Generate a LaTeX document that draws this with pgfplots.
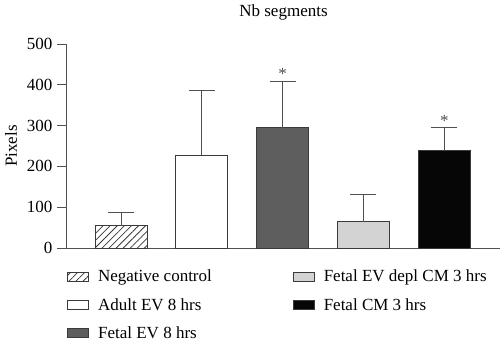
\documentclass[border=0pt]{standalone}
\usepackage{fontspec}
\setmainfont{Liberation Serif}
\usepackage{pgfplots}
\pgfplotsset{compat=1.18}
\usetikzlibrary{patterns.meta}
\definecolor{edge}{HTML}{3A3A3A}
\definecolor{axisgray}{HTML}{505050}
\definecolor{fetalev}{HTML}{5E5E5E}
\definecolor{depl}{HTML}{D3D3D3}
\definecolor{cm}{HTML}{060606}
\newcommand{\fs}{\fontsize{17}{20}\selectfont}
\begin{document}
\begin{tikzpicture}[font=\fs]
\begin{axis}[
  scale only axis, width=433pt, height=204pt,
  xmin=-0.67, xmax=4.69, ymin=0, ymax=500,
  axis x line*=bottom, axis y line*=left,
  axis line style={-, draw=axisgray, line width=1pt},
  xtick=\empty,
  ytick={0,100,200,300,400,500},
  tick align=outside, major tick length=10pt,
  tick style={draw=axisgray, line width=1pt},
  tick label style={font=\fs},
  /pgf/number format/assume math mode=true,
  yticklabel style={xshift=-1pt},
  title={Nb segments},
  title style={font=\fs, at={(0.5,1)}, anchor=south, yshift=14pt},
  ylabel={Pixels},
  ylabel style={font=\fs, xshift=0pt, yshift=3pt},
  every axis plot/.append style={draw=edge, line width=0.9pt},
  error bars/error bar style={draw=axisgray, line width=1pt},
  error bars/error mark options={rotate=90, mark size=13pt, line width=1pt, draw=axisgray},
  legend columns=2,
  legend cell align=left,
  legend image code/.code={\draw[#1] (0pt,-4.5pt) rectangle (21pt,4.5pt); \path (28pt,0pt);},
  legend style={at={(0,-0.098)}, anchor=north west, draw=none, fill=none,
    font=\fs, inner sep=0pt, row sep=11pt,
    /tikz/every even column/.append style={column sep=79pt}},
]
\addplot[ybar, bar width=52pt, fill=white,
  postaction={pattern={Lines[angle=45,distance=5pt,line width=0.8pt]}, pattern color=edge},
  error bars/.cd, y dir=plus, y explicit]
  coordinates {(0,55) +- (0,33)};
\addlegendentry{Negative control}
\addplot[ybar, bar width=52pt, fill=depl,
  error bars/.cd, y dir=plus, y explicit]
  coordinates {(3,64) +- (0,68)};
\addlegendentry{Fetal EV depl CM 3 hrs}
\addplot[ybar, bar width=52pt, fill=white,
  error bars/.cd, y dir=plus, y explicit]
  coordinates {(1,228) +- (0,157)};
\addlegendentry{Adult EV 8 hrs}
\addplot[ybar, bar width=52pt, fill=cm,
  error bars/.cd, y dir=plus, y explicit]
  coordinates {(4,238) +- (0,57)};
\addlegendentry{Fetal CM 3 hrs}
\addplot[ybar, bar width=52pt, fill=fetalev,
  error bars/.cd, y dir=plus, y explicit]
  coordinates {(2,295) +- (0,112)};
\addlegendentry{Fetal EV 8 hrs}
\node[anchor=base, text=axisgray] at (axis cs:2,412) {*};
\node[anchor=base, text=axisgray] at (axis cs:4,299) {*};
\end{axis}
\pgfresetboundingbox
\path (-67pt,-95pt) rectangle (433pt,248pt);
\end{tikzpicture}
\end{document}
